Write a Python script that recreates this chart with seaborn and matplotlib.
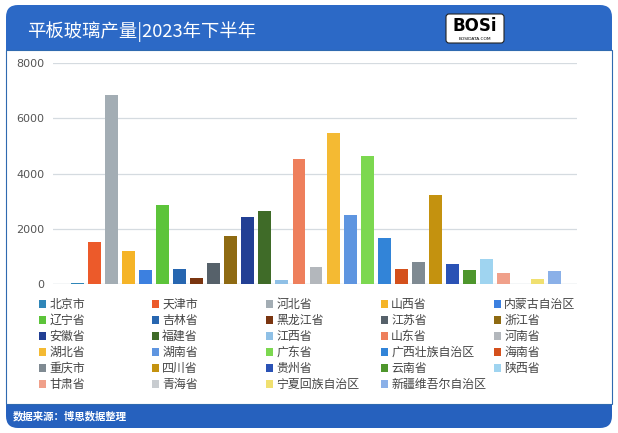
import matplotlib
matplotlib.use("Agg")
import matplotlib.pyplot as plt
import seaborn as sns
import pandas as pd
from matplotlib.patches import FancyBboxPatch, Rectangle, Patch

provinces = ["北京市", "天津市", "河北省", "山西省", "内蒙古自治区",
             "辽宁省", "吉林省", "黑龙江省", "江苏省", "浙江省",
             "安徽省", "福建省", "江西省", "山东省", "河南省",
             "湖北省", "湖南省", "广东省", "广西壮族自治区", "海南省",
             "重庆市", "四川省", "贵州省", "云南省", "陕西省",
             "甘肃省", "青海省", "宁夏回族自治区", "新疆维吾尔自治区"]
values = [30, 1530, 6850, 1210, 510,
          2860, 545, 210, 775, 1740,
          2415, 2645, 150, 4540, 615,
          5455, 2500, 4635, 1680, 555,
          805, 3235, 725, 510, 905,
          410, 0, 195, 485]
colors = ["#2F86B8", "#EC5A2A", "#A3ADB4", "#F5B427", "#3C80E0",
          "#5CC43A", "#2766B0", "#7A3510", "#56616A", "#8E6A12",
          "#223F94", "#3F6B28", "#8FC0E6", "#EE7F5C", "#B3B7BC",
          "#F4BA33", "#5E95E0", "#7CD850", "#3284D8", "#D4501C",
          "#7F8A92", "#C4920F", "#2A52B5", "#4E962C", "#9FD4F0",
          "#F0A08A", "#C8CCD0", "#F0E070", "#8AB0E8"]
y_ticks = [0, 2000, 4000, 6000, 8000]
title = "平板玻璃产量|2023年下半年"
source = "数据来源：博思数据整理"

plt.rcParams['font.family'] = ['Noto Sans CJK SC', 'DejaVu Sans']

W, H = 618, 433
fig = plt.figure(figsize=(W / 100, H / 100), dpi=100, facecolor="white")

# background decoration axes in pixel coordinates
bg = fig.add_axes([0, 0, 1, 1], zorder=-5)
bg.set_xlim(0, W)
bg.set_ylim(H, 0)
bg.set_axis_off()
blue = "#2C69C6"
bg.add_patch(FancyBboxPatch((6, 5), 606, 60, boxstyle="round,pad=0,rounding_size=12",
                            fc=blue, ec="none"))
bg.add_patch(FancyBboxPatch((6, 380), 606, 48, boxstyle="round,pad=0,rounding_size=12",
                            fc="#2661BE", ec="none"))
bg.add_patch(Rectangle((6, 50), 606, 354, fc="white", ec="#2F6AB0", lw=0.8))
bg.text(27, 32, title, color="white", fontsize=13.2, va="center", ha="left")
bg.text(13, 416, source, color="white", fontsize=7.5, fontweight="bold", va="center", ha="left")
# logo
bg.add_patch(FancyBboxPatch((446, 14), 58, 29, boxstyle="round,pad=0,rounding_size=3",
                            fc="white", ec="#222222", lw=0.8))
bg.text(475, 26, "BOSi", color="black", fontsize=12, fontweight="heavy",
        family="DejaVu Sans", va="center", ha="center")
bg.text(475, 39, "BOSIDATA.COM", color="black", fontsize=3.2, family="DejaVu Sans",
        va="center", ha="center")

# chart axes
ax = fig.add_axes([53 / W, 1 - 284 / H, (577 - 53) / W, (284 - 63) / H])
df = pd.DataFrame({"province": provinces, "value": values})
sns.barplot(data=df, x="province", y="value", hue="province", palette=colors,
            order=provinces, hue_order=provinces, dodge=False, legend=False,
            width=0.76, saturation=1, ax=ax)
ax.set_xlim(-1.44, 29.32)
ax.set_ylim(0, 8000)
ax.set_yticks(y_ticks)
ax.set_yticklabels([str(v) for v in y_ticks], fontsize=8, color="#555555",
                   family="DejaVu Sans")
ax.set_xticks([])
ax.set_xlabel("")
ax.set_ylabel("")
ax.yaxis.grid(True, color="#D5DBE0", lw=0.9)
ax.set_axisbelow(True)
for s in ax.spines.values():
    s.set_visible(False)
ax.tick_params(axis="y", length=0, pad=6)
ax.axhline(0, color="#D5DBE0", lw=0.9, zorder=0)

# legend: 5 fixed columns, filled row-wise
n = len(provinces)
ncol = 5
col_x = [39, 152, 266, 381, 494]
for c in range(ncol):
    idx = [r * ncol + c for r in range(6) if r * ncol + c < n]
    handles = [Patch(facecolor=colors[i], edgecolor="none", label=provinces[i]) for i in idx]
    fig.legend(handles=handles, loc="upper left", bbox_to_anchor=(col_x[c] / W, 1 - 298 / H),
               ncol=1, frameon=False, fontsize=8.6, handlelength=0.6, handleheight=0.6,
               handletextpad=0.25, labelspacing=0.25, labelcolor="#444444",
               borderaxespad=0, borderpad=0)

fig.savefig("out.png", dpi=100, facecolor="white")
